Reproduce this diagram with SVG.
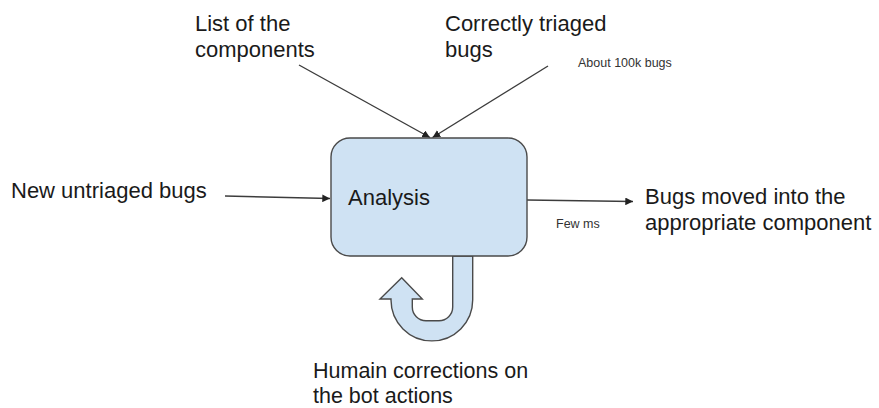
<svg xmlns="http://www.w3.org/2000/svg" width="879" height="408" viewBox="0 0 879 408">
<defs>
<style>
.t{font-family:"Liberation Sans",Arial,sans-serif;font-size:22px;fill:#1a1a1a}
.b{font-size:21.5px}
.s{font-family:"Liberation Sans",Arial,sans-serif;font-size:12.5px;fill:#333}
.ln{stroke:#3c3c3c;stroke-width:1.4;fill:none;marker-end:url(#ah)}
.shape{fill:#cfe2f3;stroke:#4a4a4a;stroke-width:1.4}
</style>
<marker id="ah" viewBox="0 0 10 10" refX="10" refY="5" markerWidth="5.5" markerHeight="5.5" orient="auto" markerUnits="strokeWidth">
<path d="M0,0 L10,5 L0,10 z" fill="#222"/>
</marker>
</defs>
<rect width="879" height="408" fill="#fff"/>
<g id="connectors">
<line class="ln" x1="299" y1="65" x2="430" y2="137.5"/>
<line class="ln" x1="548" y1="66" x2="432.5" y2="137.5"/>
<line class="ln" x1="225" y1="196" x2="330" y2="198.5"/>
<line class="ln" x1="527" y1="200" x2="633" y2="201.5"/>
</g>
<g id="feedback">
<path class="shape" d="M452.7 256 L472.7 256 L472.7 300 A40.85 40.85 0 0 1 391 300 L391 299 L380 299 L401.7 277.7 L422.3 299 L412.3 299 L412.3 307 A13.7 13.7 0 0 0 426 320.7 L439 320.7 A13.7 13.7 0 0 0 452.7 307 Z"/>
</g>
<g id="analysis">
<rect class="shape" x="331" y="138" width="196" height="118" rx="19" ry="19"/>
<text class="t" x="348" y="205">Analysis</text>
</g>
<g id="components">
<text class="t" x="195" y="31">List of the</text>
<text class="t" x="195" y="57">components</text>
</g>
<g id="triaged">
<text class="t" x="445" y="31">Correctly triaged</text>
<text class="t" x="445" y="57">bugs</text>
<text class="s" x="578" y="67">About 100k bugs</text>
</g>
<g id="untriaged">
<text class="t" x="11" y="198">New untriaged bugs</text>
</g>
<g id="output">
<text class="t" x="645" y="204">Bugs moved into the</text>
<text class="t" x="645" y="230">appropriate component</text>
<text class="s" x="556" y="228">Few ms</text>
</g>
<g id="human">
<text class="t b" x="313" y="378">Humain corrections on</text>
<text class="t b" x="313" y="403">the bot actions</text>
</g>
</svg>
